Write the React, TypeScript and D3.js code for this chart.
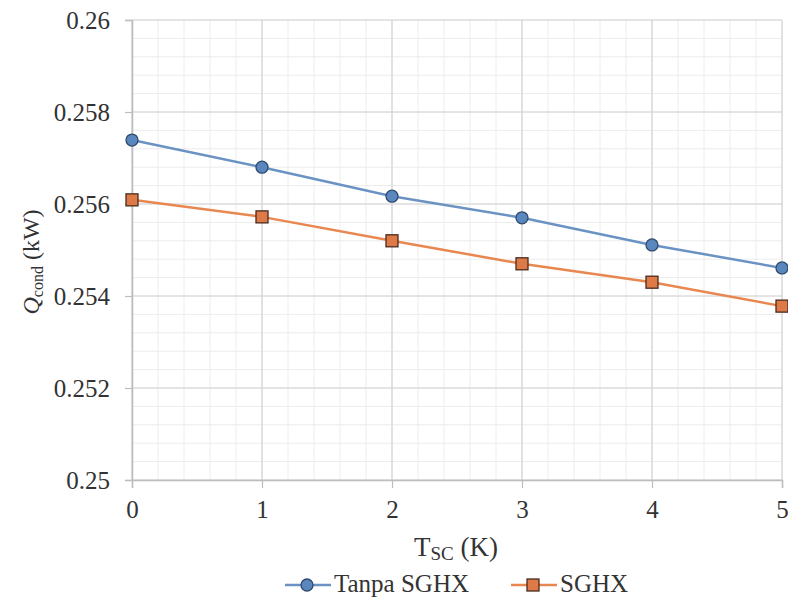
import { useRef, useEffect } from "react";
import * as d3 from "d3";

const tsc = [0, 1, 2, 3, 4, 5];
const tanpaSGHX = [0.25739, 0.2568, 0.25617, 0.2557, 0.25511, 0.25461];
const sghx = [0.25609, 0.25572, 0.2552, 0.2547, 0.2543, 0.25378];
const yTicks = [0.25, 0.252, 0.254, 0.256, 0.258, 0.26];
const seriesNames = ["Tanpa SGHX", "SGHX"];

const App = () => {
  const svgRef = useRef<SVGSVGElement>(null);

  useEffect(() => {
    const svg = d3.select(svgRef.current);
    svg.selectAll("*").remove();
    const font = "'Times New Roman', 'Liberation Serif', serif";

    const margin = { top: 20, right: 6, bottom: 120, left: 132 };
    const width = 788;
    const height = 600;
    const innerWidth = width - margin.left - margin.right;
    const innerHeight = height - margin.top - margin.bottom;

    const x = d3.scaleLinear().domain([0, 5]).range([0, innerWidth]);
    const y = d3.scaleLinear().domain([0.25, 0.26]).range([innerHeight, 0]);

    svg.append("rect").attr("width", width).attr("height", height).attr("fill", "#fff");

    const g = svg.append("g").attr("transform", `translate(${margin.left},${margin.top})`);

    // minor grid
    const xMinor = d3.range(0, 5.0001, 0.2);
    const yMinor = d3.range(0.25, 0.26001, 0.0004);
    g.selectAll(".xminor")
      .data(xMinor)
      .enter()
      .append("line")
      .attr("x1", (d) => x(d))
      .attr("x2", (d) => x(d))
      .attr("y1", 0)
      .attr("y2", innerHeight)
      .attr("stroke", "#ececec")
      .attr("stroke-width", 1);
    g.selectAll(".yminor")
      .data(yMinor)
      .enter()
      .append("line")
      .attr("x1", 0)
      .attr("x2", innerWidth)
      .attr("y1", (d) => y(d))
      .attr("y2", (d) => y(d))
      .attr("stroke", "#ececec")
      .attr("stroke-width", 1);

    // major grid
    g.selectAll(".xmajor")
      .data(tsc)
      .enter()
      .append("line")
      .attr("x1", (d) => x(d))
      .attr("x2", (d) => x(d))
      .attr("y1", 0)
      .attr("y2", innerHeight)
      .attr("stroke", "#d4d4d4")
      .attr("stroke-width", 1.2);
    g.selectAll(".ymajor")
      .data(yTicks)
      .enter()
      .append("line")
      .attr("x1", 0)
      .attr("x2", innerWidth)
      .attr("y1", (d) => y(d))
      .attr("y2", (d) => y(d))
      .attr("stroke", "#d4d4d4")
      .attr("stroke-width", 1.2);

    // axes
    const yAxis = g
      .append("g")
      .call(d3.axisLeft(y).tickValues(yTicks).tickFormat((d) => String(+d)).tickSize(7).tickPadding(15));
    const xAxis = g
      .append("g")
      .attr("transform", `translate(0,${innerHeight})`)
      .call(d3.axisBottom(x).tickValues(tsc).tickFormat(d3.format("d")).tickSize(8).tickPadding(12));
    [yAxis, xAxis].forEach((a) => {
      a.attr("font-family", null).attr("font-size", null);
      a.select(".domain").attr("stroke", "#bdbdbd").attr("stroke-width", 1.5);
      a.selectAll(".tick line").attr("stroke", "#bdbdbd").attr("stroke-width", 1.2);
      a.selectAll("text").style("font-family", font).style("font-size", "25px").attr("fill", "#333");
    });

    const data = [
      { name: seriesNames[0], values: tanpaSGHX, line: "#6a93c4", fill: "#5b87bf", stroke: "#2f4a6d", shape: "circle" },
      { name: seriesNames[1], values: sghx, line: "#e8874f", fill: "#dd7a48", stroke: "#4a2b1c", shape: "square" },
    ];

    const lineGen = d3
      .line<number>()
      .x((_, i) => x(tsc[i]))
      .y((d) => y(d));

    const drawMarker = (sel: any, shape: string, fill: string, stroke: string, cx: number, cy: number) => {
      if (shape === "circle") {
        sel.append("circle").attr("cx", cx).attr("cy", cy).attr("r", 6).attr("fill", fill).attr("stroke", stroke).attr("stroke-width", 1.3);
      } else {
        sel
          .append("rect")
          .attr("x", cx - 6)
          .attr("y", cy - 6)
          .attr("width", 12)
          .attr("height", 12)
          .attr("fill", fill)
          .attr("stroke", stroke)
          .attr("stroke-width", 1.3);
      }
    };

    data.forEach((s) => {
      g.append("path")
        .datum(s.values)
        .attr("fill", "none")
        .attr("stroke", s.line)
        .attr("stroke-width", 2.5)
        .attr("d", lineGen);
      s.values.forEach((v, i) => drawMarker(g, s.shape, s.fill, s.stroke, x(tsc[i]), y(v)));
    });

    // x title
    const xt = svg
      .append("text")
      .attr("x", 456)
      .attr("y", 556)
      .attr("text-anchor", "middle")
      .style("font-family", font)
      .style("font-size", "27px")
      .attr("fill", "#333");
    xt.append("tspan").text("T");
    xt.append("tspan").style("font-size", "19px").attr("dy", 4).text("SC");
    xt.append("tspan").attr("dy", -4).text(" (K)");

    // y title
    const yt = svg
      .append("text")
      .attr("transform", `translate(39,262) rotate(-90)`)
      .attr("text-anchor", "middle")
      .style("font-family", font)
      .style("font-size", "24px")
      .attr("fill", "#333");
    yt.append("tspan").attr("font-style", "italic").text("Q");
    yt.append("tspan").style("font-size", "16px").attr("dy", 4).text("cond");
    yt.append("tspan").attr("dy", -4).text(" (kW)");

    // legend
    const legendPos = [285, 511];
    data.forEach((s, i) => {
      const lx = legendPos[i];
      const ly = 585;
      svg.append("line").attr("x1", lx).attr("x2", lx + 46).attr("y1", ly).attr("y2", ly).attr("stroke", s.line).attr("stroke-width", 2.5);
      drawMarker(svg, s.shape, s.fill, s.stroke, lx + 22, ly);
      svg
        .append("text")
        .attr("x", lx + 49)
        .attr("y", ly + 7)
        .style("font-family", font)
        .style("font-size", "25px")
        .attr("fill", "#333")
        .text(s.name);
    });
  }, []);

  return <svg ref={svgRef} width={788} height={600} style={{ display: "block", position: "absolute", left: 0, top: 0 }}></svg>;
};

export default App;
